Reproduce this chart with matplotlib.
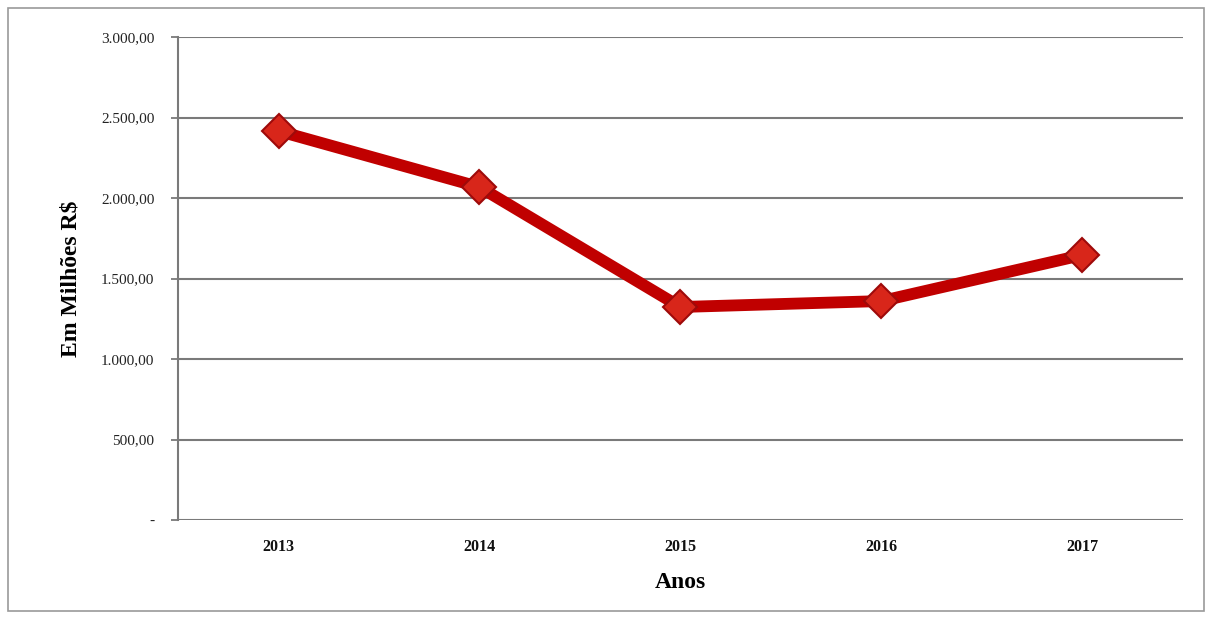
import matplotlib
matplotlib.use("Agg")
import matplotlib.pyplot as plt
from matplotlib.patches import Rectangle

anos = ["2013", "2014", "2015", "2016", "2017"]
valores = [2416, 2068, 1323, 1360, 1646]
yticks = [0, 500, 1000, 1500, 2000, 2500, 3000]
ytick_labels = ["-", "500,00", "1.000,00", "1.500,00", "2.000,00", "2.500,00", "3.000,00"]

serif = ["Liberation Serif", "DejaVu Serif"]

fig = plt.figure(figsize=(12.12, 6.23), dpi=100)
fig.patch.set_facecolor("white")
fig.add_artist(Rectangle((0.007, 0.02), 0.986, 0.967, transform=fig.transFigure,
                         fill=False, edgecolor="#9a9a9a", linewidth=1.2))

ax = fig.add_axes([0.1469, 0.1653, 0.829, 0.7753])
x = list(range(len(anos)))
ax.plot(x, valores, color="#C00000", linewidth=8.5, solid_joinstyle="round",
        marker="D", markersize=17, markerfacecolor="#D8261A",
        markeredgecolor="#9E0A0A", markeredgewidth=1.5, zorder=3)

ax.set_xlim(-0.5, len(anos) - 0.5)
ax.set_ylim(0, 3000)
ax.set_yticks(yticks)
ax.set_yticklabels(ytick_labels)
ax.set_xticks(x)
ax.set_xticklabels(anos)

ax.grid(axis="y", color="#7a7a7a", linewidth=1.5)
ax.set_axisbelow(True)
for s in ["top", "right", "bottom"]:
    ax.spines[s].set_visible(False)
ax.spines["left"].set_color("#7a7a7a")
ax.spines["left"].set_linewidth(1.5)
ax.tick_params(axis="y", length=5, width=1.3, color="#7a7a7a", pad=12)
ax.tick_params(axis="x", length=0, pad=14)

for lab in ax.get_yticklabels():
    lab.set_fontfamily(serif)
    lab.set_fontsize(11)
    lab.set_color("#222222")
for lab in ax.get_xticklabels():
    lab.set_fontfamily(serif)
    lab.set_fontsize(11.5)
    lab.set_fontweight("bold")
    lab.set_color("#111111")

ax.set_ylabel("Em Milhões R$", fontfamily=serif, fontsize=17, fontweight="bold", labelpad=14)
ax.set_xlabel("Anos", fontfamily=serif, fontsize=17, fontweight="bold", labelpad=12)

fig.savefig("out.png", dpi=100, facecolor="white")
